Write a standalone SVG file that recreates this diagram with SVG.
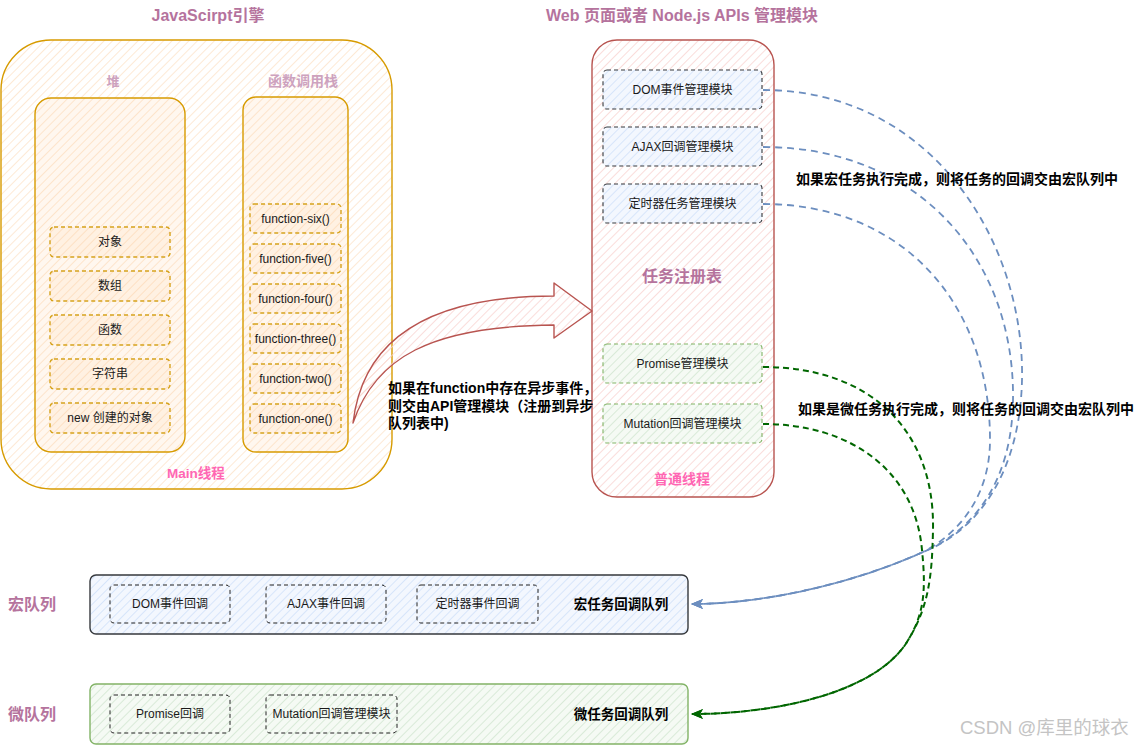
<svg xmlns="http://www.w3.org/2000/svg" width="1146" height="745" viewBox="0 0 1146 745">
<defs>
<style>
text{font-family:"Liberation Sans","Noto Sans CJK SC",sans-serif;}
.t{font-size:16px;font-weight:bold;fill:#B5739D;text-anchor:middle}
.st{font-size:13px;font-weight:bold;fill:#CDA2BE;text-anchor:middle}
.th{font-size:13.5px;font-weight:bold;fill:#FF66B3;text-anchor:middle}
.n{font-size:12px;fill:#1a1a1a;text-anchor:middle}
.lb{font-size:14px;font-weight:bold;fill:#000}
.qb{font-size:13.5px;font-weight:bold;fill:#000;text-anchor:middle}
.oBox{fill:url(#hO);stroke:#d79b00;stroke-width:1.4}
.oIn{fill:url(#hO2);stroke:#d79b00;stroke-width:1.4}
.oItem{fill:url(#hO3);stroke:#d6a21c;stroke-width:1.4;stroke-dasharray:4 3}
.rBox{fill:url(#hR);stroke:#b85450;stroke-width:1.4}
.bItem{fill:url(#hB);stroke:#36393d;stroke-width:1.1;stroke-dasharray:4 3}
.gItem{fill:url(#hG);stroke:#82b366;stroke-width:1.1;stroke-dasharray:4 3}
.qItem{fill:none;stroke:#222;stroke-width:1;stroke-dasharray:4 3}
.bq{fill:url(#hB);stroke:#36393d;stroke-width:1.4}
.gq{fill:url(#hG);stroke:#82b366;stroke-width:1.4}
.blue{fill:none;stroke:#6c8ebf;stroke-width:1.8;stroke-dasharray:7 5}
.green{fill:none;stroke:#006600;stroke-width:2;stroke-dasharray:6 4}
</style>
<pattern id="hO" width="6" height="6" patternUnits="userSpaceOnUse" patternTransform="rotate(45)"><line x1="0" y1="0" x2="0" y2="6" stroke="#fde4cb" stroke-width="1.6"/></pattern>
<pattern id="hO2" width="6" height="6" patternUnits="userSpaceOnUse" patternTransform="rotate(45) translate(3,0)"><rect width="6" height="6" fill="#fff7ef"/><line x1="0" y1="0" x2="0" y2="6" stroke="#fde0c2" stroke-width="1.6"/></pattern>
<pattern id="hO3" width="6" height="6" patternUnits="userSpaceOnUse" patternTransform="rotate(45) translate(1.5,0)"><rect width="6" height="6" fill="#fff1e2"/><line x1="0" y1="0" x2="0" y2="6" stroke="#fddcbc" stroke-width="1.6"/></pattern>
<pattern id="hR" width="6" height="6" patternUnits="userSpaceOnUse" patternTransform="rotate(45)"><line x1="0" y1="0" x2="0" y2="6" stroke="#f9d4d2" stroke-width="1.6"/></pattern>
<pattern id="hB" width="6" height="6" patternUnits="userSpaceOnUse" patternTransform="rotate(45)"><rect width="6" height="6" fill="#f3f7fe"/><line x1="0" y1="0" x2="0" y2="6" stroke="#d0e1f9" stroke-width="1.6"/></pattern>
<pattern id="hG" width="6" height="6" patternUnits="userSpaceOnUse" patternTransform="rotate(45)"><rect width="6" height="6" fill="#f5faf4"/><line x1="0" y1="0" x2="0" y2="6" stroke="#d2e6d1" stroke-width="1.6"/></pattern>
<marker id="aB" viewBox="0 0 12 10" refX="11" refY="5" markerWidth="12" markerHeight="10" markerUnits="userSpaceOnUse" orient="auto"><path d="M0,0 L12,5 L0,10 L3,5 Z" fill="#6c8ebf"/></marker>
<marker id="aG" viewBox="0 0 12 10" refX="11" refY="5" markerWidth="12" markerHeight="10" markerUnits="userSpaceOnUse" orient="auto"><path d="M0,0 L12,5 L0,10 L3,5 Z" fill="#006600"/></marker>
</defs>
<rect width="1146" height="745" fill="#ffffff"/>

<g id="titles">
<text class="t" x="208" y="21">JavaScirpt引擎</text>
<text class="t" x="682" y="21">Web 页面或者 Node.js APIs 管理模块</text>
<text class="t" x="32" y="610">宏队列</text>
<text class="t" x="32" y="720">微队列</text>
</g>

<g id="js-engine">
<rect class="oBox" x="1" y="40" width="391" height="449" rx="50"/>
<text class="th" x="196" y="478">Main线程</text>
</g>
<g id="heap">
<text class="st" x="113" y="86">堆</text>
<rect class="oIn" x="35" y="98" width="150" height="354" rx="16"/>
</g>
<g id="heap-obj"><rect class="oItem" x="50" y="227" width="120" height="30" rx="4"/><text class="n" x="110" y="246">对象</text></g>
<g id="heap-arr"><rect class="oItem" x="50" y="271" width="120" height="30" rx="4"/><text class="n" x="110" y="290">数组</text></g>
<g id="heap-fn"><rect class="oItem" x="50" y="315" width="120" height="30" rx="4"/><text class="n" x="110" y="334">函数</text></g>
<g id="heap-str"><rect class="oItem" x="50" y="359" width="120" height="30" rx="4"/><text class="n" x="110" y="378">字符串</text></g>
<g id="heap-new"><rect class="oItem" x="50" y="403" width="120" height="30" rx="4"/><text class="n" x="110" y="422">new 创建的对象</text></g>

<g id="stack">
<text class="st" x="303" y="86" style="font-size:14px">函数调用栈</text>
<rect class="oIn" x="243" y="97" width="105" height="355" rx="13"/>
</g>
<g id="fn-six"><rect class="oItem" x="250" y="204" width="91" height="29" rx="4"/><text class="n" x="295.5" y="222.5">function-six()</text></g>
<g id="fn-five"><rect class="oItem" x="250" y="244" width="91" height="29" rx="4"/><text class="n" x="295.5" y="262.5">function-five()</text></g>
<g id="fn-four"><rect class="oItem" x="250" y="284" width="91" height="29" rx="4"/><text class="n" x="295.5" y="302.5">function-four()</text></g>
<g id="fn-three"><rect class="oItem" x="250" y="324" width="91" height="29" rx="4"/><text class="n" x="295.5" y="342.5">function-three()</text></g>
<g id="fn-two"><rect class="oItem" x="250" y="364" width="91" height="29" rx="4"/><text class="n" x="295.5" y="382.5">function-two()</text></g>
<g id="fn-one"><rect class="oItem" x="250" y="404" width="91" height="29" rx="4"/><text class="n" x="295.5" y="422.5">function-one()</text></g>

<g id="api-module">
<rect class="rBox" x="592" y="40" width="182" height="457" rx="25"/>
<text class="t" x="682" y="282">任务注册表</text>
<text class="th" x="682" y="484" style="font-size:14px">普通线程</text>
</g>
<g id="dom-mgr"><rect class="bItem" x="603" y="70" width="159" height="39" rx="4"/><text class="n" x="682.5" y="93.5">DOM事件管理模块</text></g>
<g id="ajax-mgr"><rect class="bItem" x="603" y="127" width="159" height="39" rx="4"/><text class="n" x="682.5" y="150.5">AJAX回调管理模块</text></g>
<g id="timer-mgr"><rect class="bItem" x="603" y="184" width="159" height="39" rx="4"/><text class="n" x="682.5" y="207.5">定时器任务管理模块</text></g>
<g id="promise-mgr"><rect class="gItem" x="603" y="344" width="159" height="39" rx="4"/><text class="n" x="682.5" y="367.5">Promise管理模块</text></g>
<g id="mutation-mgr"><rect class="gItem" x="603" y="404" width="159" height="39" rx="4"/><text class="n" x="682.5" y="427.5">Mutation回调管理模块</text></g>

<g id="macro-queue">
<rect class="bq" x="90" y="575" width="598" height="59" rx="6"/>
<text class="qb" x="621" y="609">宏任务回调队列</text>
</g>
<g id="macro-dom"><rect class="qItem" x="110" y="585" width="120" height="38" rx="4"/><text class="n" x="170" y="608">DOM事件回调</text></g>
<g id="macro-ajax"><rect class="qItem" x="266" y="585" width="120" height="38" rx="4"/><text class="n" x="326" y="608">AJAX事件回调</text></g>
<g id="macro-timer"><rect class="qItem" x="417" y="585" width="121" height="38" rx="4"/><text class="n" x="477.5" y="608">定时器事件回调</text></g>

<g id="micro-queue">
<rect class="gq" x="90" y="684" width="598" height="60" rx="6"/>
<text class="qb" x="621" y="719">微任务回调队列</text>
</g>
<g id="micro-promise"><rect class="qItem" x="110" y="695" width="120" height="38" rx="4"/><text class="n" x="170" y="718">Promise回调</text></g>
<g id="micro-mutation"><rect class="qItem" x="266" y="695" width="131" height="38" rx="4"/><text class="n" x="331.5" y="718">Mutation回调管理模块</text></g>

<g id="connectors">
<path d="M353,423 C362,345 420,296 554,296 L554,283 L592,311 L554,338 L554,325 C430,326 375,358 353,423 Z" fill="url(#hR)" stroke="#b85450" stroke-width="1.4" stroke-linejoin="round"/>
<path class="blue" d="M763,90 C930,90 1025,240 1022,380 C1020,470 980,530 923,552 C850,585 760,604 692,604" marker-end="url(#aB)"/>
<path class="blue" d="M763,147 C920,147 1015,260 1013,400 C1012,480 975,530 923,552 C850,585 760,604 692,604" marker-end="url(#aB)"/>
<path class="blue" d="M763,204 C900,204 990,300 990,440 C990,490 965,530 923,552 C850,585 760,604 692,604" marker-end="url(#aB)"/>
<path class="green" d="M763,367 C870,367 935,430 933,530 C932,580 928,610 905,645 C870,695 770,714 692,714" marker-end="url(#aG)"/>
<path class="green" d="M763,424 C850,424 915,470 922,550 C926,590 925,615 905,645 C870,695 770,714 692,714" marker-end="url(#aG)"/>
</g>

<g id="labels">
<text class="lb" x="388" y="393">如果在function中存在异步事件，</text>
<text class="lb" x="388" y="411">则交由API管理模块（注册到异步</text>
<text class="lb" x="388" y="428">队列表中)</text>
<text class="lb" x="796" y="184">如果宏任务执行完成，则将任务的回调交由宏队列中</text>
<text class="lb" x="798" y="414">如果是微任务执行完成，则将任务的回调交由宏队列中</text>
<text x="960" y="734" style="font-size:18.5px;fill:#c4c4c4">CSDN @库里的球衣</text>
</g>
</svg>
